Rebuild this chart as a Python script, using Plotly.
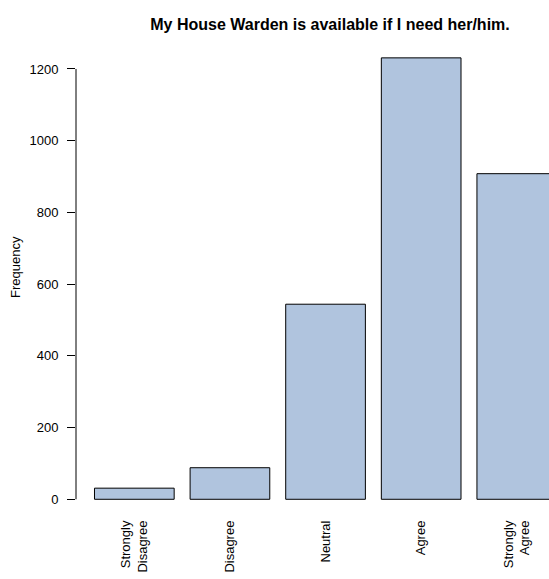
import plotly.graph_objects as go

# response categories and counts
categories = ["Strongly<br>Disagree", "Disagree", "Neutral", "Agree", "Strongly<br>Agree"]
counts = [31, 88, 544, 1231, 908]
y_ticks = [0, 200, 400, 600, 800, 1000, 1200]

font = "Liberation Sans, Arial, sans-serif"

fig = go.Figure(go.Bar(
    x=categories,
    y=counts,
    marker=dict(color="#B0C4DE", line=dict(color="black", width=1)),
))

# R-style y axis line that only spans the tick range
fig.add_shape(type="line", xref="paper", yref="y",
              x0=0, x1=0, y0=y_ticks[0], y1=y_ticks[-1],
              line=dict(color="black", width=1))

fig.update_layout(
    width=549, height=579,
    margin=dict(l=76, r=0, t=40, b=62),
    paper_bgcolor="white", plot_bgcolor="white",
    bargap=0.1667,
    showlegend=False,
    font=dict(family=font, size=13, color="black"),
    title=dict(text="<b>My House Warden is available if I need her/him.</b>",
               x=330 / 549, xanchor="center", y=1 - 24 / 579, yanchor="middle",
               font=dict(size=16)),
    xaxis=dict(range=[-0.61, 4.337], showgrid=False, zeroline=False,
               showline=False, ticks="", tickangle=-90, tickfont=dict(size=13)),
    yaxis=dict(range=[-49.4, 1280.8], tickvals=y_ticks, showgrid=False,
               zeroline=False, showline=False, ticks="outside", ticklen=8,
               tickcolor="black", tickfont=dict(size=13), ticklabelstandoff=6),
    annotations=[dict(text="Frequency", xref="paper", yref="paper",
                      x=(15 - 76) / 473, y=(517 - 267) / 477,
                      showarrow=False, textangle=-90,
                      font=dict(size=13), xanchor="center", yanchor="middle")],
)

# drop the default page margin so the figure sits at the window's corner
fig.write_html("out.html", config={"displayModeBar": False},
               post_script="document.body.style.margin='0';document.body.style.padding='0';")
